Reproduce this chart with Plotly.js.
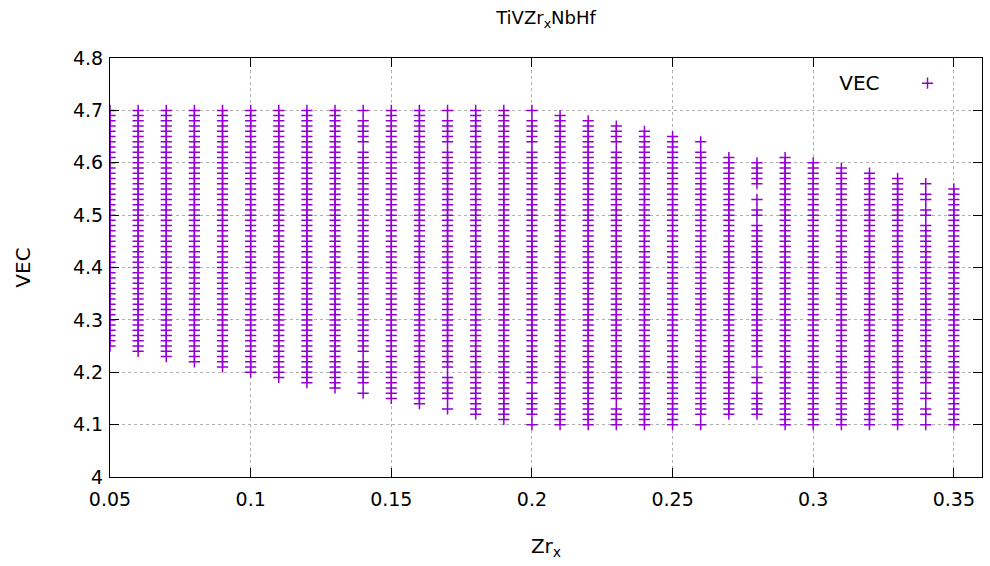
<!DOCTYPE html>
<html>
<head>
<meta charset="utf-8">
<script src="https://cdn.plot.ly/plotly-3.0.1.min.js"></script>
<style>html,body{margin:0;padding:0;background:#fff;}#chart{width:990px;height:566px;}</style>
</head>
<body>
<div id="chart"></div>
<script>
// Zr fraction of each column
const zrX = [0.05,0.06,0.07,0.08,0.09,0.10,0.11,0.12,0.13,0.14,0.15,0.16,0.17,0.18,0.19,0.20,
             0.21,0.22,0.23,0.24,0.25,0.26,0.27,0.28,0.29,0.30,0.31,0.32,0.33,0.34,0.35];
// VEC step between neighbouring points in a column
const vecStep = 0.01;
// Runs of VEC values present in each column [first, last]
const vecRuns = [
  [[4.25,4.70]],
  [[4.24,4.70]],
  [[4.23,4.70]],
  [[4.22,4.70]],
  [[4.21,4.70]],
  [[4.20,4.70]],
  [[4.19,4.70]],
  [[4.18,4.70]],
  [[4.17,4.70]],
  [[4.16,4.16],[4.18,4.22],[4.24,4.62],[4.64,4.68],[4.70,4.70]],
  [[4.15,4.70]],
  [[4.14,4.70]],
  [[4.13,4.13],[4.15,4.19],[4.21,4.62],[4.64,4.68],[4.70,4.70]],
  [[4.12,4.70]],
  [[4.11,4.70]],
  [[4.10,4.10],[4.12,4.16],[4.18,4.62],[4.64,4.68],[4.70,4.70]],
  [[4.10,4.69]],
  [[4.10,4.68]],
  [[4.10,4.13],[4.15,4.62],[4.64,4.67]],
  [[4.10,4.66]],
  [[4.10,4.65]],
  [[4.10,4.10],[4.12,4.62],[4.64,4.64]],
  [[4.12,4.61]],
  [[4.12,4.12],[4.13,4.16],[4.18,4.19],[4.21,4.21],[4.23,4.48],[4.50,4.51],[4.53,4.53],[4.56,4.60]],
  [[4.10,4.61]],
  [[4.10,4.60]],
  [[4.10,4.59]],
  [[4.10,4.58]],
  [[4.10,4.57]],
  [[4.10,4.10],[4.12,4.13],[4.15,4.16],[4.18,4.48],[4.50,4.51],[4.53,4.54],[4.56,4.56]],
  [[4.10,4.55]]
];
const seriesName = 'VEC';
const chartTitle = 'TiVZr<sub>x</sub>NbHf';
const xTitle = 'Zr<sub>x</sub>';
const yTitle = 'VEC';

const xs = [], ys = [];
zrX.forEach((x, i) => {
  vecRuns[i].forEach(([a, b]) => {
    const n = Math.round((b - a) / vecStep);
    for (let k = 0; k <= n; k++) {
      xs.push(x);
      ys.push(+(a + k * vecStep).toFixed(2));
    }
  });
});

const font = 'DejaVu Sans, sans-serif';
const trace = {
  x: xs, y: ys, type: 'scatter', mode: 'markers', name: '',
  marker: {symbol: 'cross-thin', size: 8, color: '#9400d3', line: {color: '#9400d3', width: 1.5}},
  showlegend: true, hoverinfo: 'x+y'
};

const axisCommon = {
  showline: true, linecolor: '#000', linewidth: 1, mirror: 'ticks',
  ticks: 'inside', ticklen: 9, tickwidth: 1, tickcolor: '#000',
  showgrid: true, gridcolor: '#b0b0b0', griddash: 'dot', gridwidth: 1,
  zeroline: false, tickfont: {family: font, size: 19, color: '#000'},
  automargin: false
};

const layout = {
  width: 990, height: 566,
  margin: {l: 110, r: 8, t: 58, b: 89},
  paper_bgcolor: '#fff', plot_bgcolor: '#fff',
  title: {text: chartTitle, font: {family: font, size: 18, color: '#000'},
          x: 0.5, xref: 'paper', xanchor: 'center', y: 1 - 18/566, yref: 'container', yanchor: 'middle'},
  xaxis: Object.assign({}, axisCommon, {
    range: [0.05, 0.36], tick0: 0.05, dtick: 0.05, ticklabelstandoff: 5,
    title: {text: xTitle, font: {family: font, size: 20, color: '#000'}, standoff: 30}
  }),
  yaxis: Object.assign({}, axisCommon, {
    range: [4, 4.8], tick0: 4, dtick: 0.1, ticklabelstandoff: 2,
    title: {text: yTitle, font: {family: font, size: 20, color: '#000'}, standoff: 36}
  }),
  showlegend: true,
  legend: {
    x: 0.967, y: 0.94, xanchor: 'right', yanchor: 'middle',
    bgcolor: 'rgba(0,0,0,0)', borderwidth: 0,
    font: {family: font, size: 20, color: '#000'},
    title: {text: seriesName, side: 'left', font: {family: font, size: 20, color: '#000'}},
    itemwidth: 30, indentation: 20
  }
};

Plotly.newPlot('chart', [trace], layout, {displayModeBar: false, staticPlot: true});
</script>
</body>
</html>
